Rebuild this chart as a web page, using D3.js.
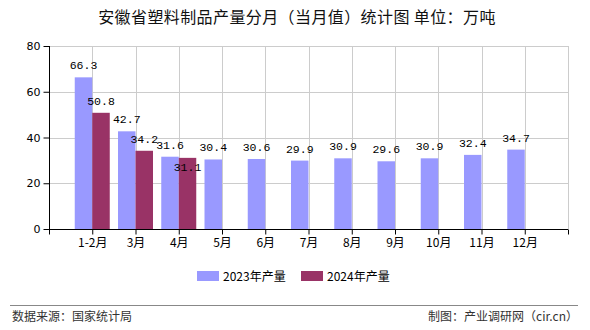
<!DOCTYPE html>
<html><head><meta charset="utf-8">
<script src="https://cdn.jsdelivr.net/npm/d3@7"></script>
<style>body{margin:0;background:#fff}svg{display:block}</style>
</head><body>
<script>
const categories = ["1-2月","3月","4月","5月","6月","7月","8月","9月","10月","11月","12月"];
const values2023 = [66.3,42.7,31.6,30.4,30.6,29.9,30.9,29.6,30.9,32.4,34.7];
const values2024 = [50.8,34.2,31.1];
const seriesNames = ["2023年产量","2024年产量"];
const yTicks = [0,20,40,60,80];
const colors = ["#9999FF","#993366"];

const W=590,H=330;
const svg=d3.select("body").append("svg").attr("width",W).attr("height",H);
const L=49,R=568,T=46,B=229;
const x=d3.scaleLinear().domain([0,categories.length+1]).range([L,R]);
const y=d3.scaleLinear().domain([0,80]).range([B,T]);
const bw=17.5;
const cjk="'Noto Sans CJK SC','Noto Sans',sans-serif";
const mono="'Liberation Mono','DejaVu Sans Mono',monospace";

svg.append("text").attr("x",297).attr("y",23).attr("text-anchor","middle")
  .style("font-family",cjk).style("font-size","16px").style("letter-spacing","0.4px").attr("fill","#111")
  .text("安徽省塑料制品产量分月（当月值）统计图 单位：万吨");

// grid
const g=svg.append("g");
g.selectAll(".hg").data(yTicks.slice(1)).join("line")
  .attr("x1",L).attr("x2",R).attr("y1",d=>Math.round(y(d))+0.5).attr("y2",d=>Math.round(y(d))+0.5)
  .attr("stroke","#cccccc");
const vpos=d3.range(1,categories.length+2);
g.selectAll(".vg").data(vpos).join("line")
  .attr("x1",d=>Math.round(x(d))+0.5).attr("x2",d=>Math.round(x(d))+0.5).attr("y1",T).attr("y2",B)
  .attr("stroke","#cccccc");

// bars
svg.append("g").selectAll("rect").data(values2023).join("rect")
  .attr("x",(d,i)=>x(i+1)-bw).attr("width",bw).attr("y",d=>y(d)).attr("height",d=>B-y(d)).attr("fill",colors[0]);
svg.append("g").selectAll("rect").data(values2024).join("rect")
  .attr("x",(d,i)=>x(i+1)).attr("width",bw).attr("y",d=>y(d)).attr("height",d=>B-y(d)).attr("fill",colors[1]);

// labels
svg.append("g").selectAll("text").data(values2023).join("text")
  .attr("x",(d,i)=>x(i+1)-bw/2).attr("y",d=>y(d)-8).attr("text-anchor","middle")
  .style("font-family",mono).style("font-size","11.5px").attr("fill","#000").text(d=>d.toFixed(1));
svg.append("g").selectAll("text").data(values2024).join("text")
  .attr("x",(d,i)=>x(i+1)+bw/2)
  .attr("y",(d,i)=>{const a=y(values2023[i])-8,b=y(d)-8;return (b-a)<12? y(d)+13 : b;})
  .attr("text-anchor","middle")
  .style("font-family",mono).style("font-size","11.5px").attr("fill","#000").text(d=>d.toFixed(1));

// axes
const ya=svg.append("g").attr("transform",`translate(${L+0.5},0)`)
  .call(d3.axisLeft(y).tickValues(yTicks).tickSize(6).tickPadding(3).tickFormat(d3.format("d")));
ya.select(".domain").attr("d",`M-0,${T}V${B}`);
ya.selectAll("text").style("font-family","'DejaVu Sans',sans-serif").style("font-size","11px").attr("fill","#000");
ya.selectAll("line").attr("stroke","#000");

const xa=svg.append("g").attr("transform",`translate(0,${B+0.5})`)
  .call(d3.axisBottom(x).tickValues(d3.range(0,categories.length+2)).tickSize(5).tickPadding(4)
    .tickFormat(d=> (d>=1&&d<=categories.length)?categories[d-1]:""));
xa.select(".domain").attr("d",`M${L},0H${R}`);
xa.selectAll("text").style("font-family",cjk).style("font-size","12px").attr("fill","#000");
xa.selectAll("line").attr("stroke","#000");

// legend
const lg=svg.append("g");
const lx=[197,301];
seriesNames.forEach((n,i)=>{
  lg.append("rect").attr("x",lx[i]).attr("y",271).attr("width",22).attr("height",10).attr("fill",colors[i]);
  lg.append("text").attr("x",lx[i]+26).attr("y",281).style("font-family",cjk).style("font-size","12px").attr("fill","#000").text(n);
});

// footer
svg.append("line").attr("x1",10).attr("x2",578).attr("y1",305.5).attr("y2",305.5).attr("stroke","#888");
svg.append("text").attr("x",12).attr("y",321).style("font-family",cjk).style("font-size","12px").attr("fill","#333").text("数据来源：国家统计局");
svg.append("text").attr("x",578).attr("y",321).attr("text-anchor","end").style("font-family",cjk).style("font-size","12px").attr("fill","#333").text("制图：产业调研网（cir.cn）");
</script>
</body></html>
